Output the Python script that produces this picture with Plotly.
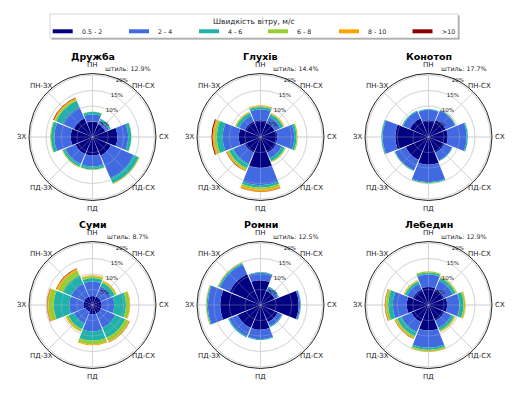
import math
import plotly.graph_objects as go

# ---------------- data ----------------
directions = ['ПН', 'ПН-СХ', 'СХ', 'ПД-СХ', 'ПД', 'ПД-ЗХ', 'ЗХ', 'ПН-ЗХ']
angles = [0, 45, 90, 135, 180, 225, 270, 315]
speed_bins = ['0.5 - 2', '2 - 4', '4 - 6', '6 - 8', '8 - 10', '>10']
stations = ['Дружба', 'Глухів', 'Конотоп', 'Суми', 'Ромни', 'Лебедин']
calm = [12.9, 14.4, 17.7, 8.7, 12.5, 12.9]

# percentage of observations per speed bin (rows) and direction (columns)
druzhba = [
    [5.0, 4.5, 8.0, 6.5, 6.0, 6.0, 7.0, 6.5],
    [2.3, 1.3, 3.5, 8.0, 3.5, 3.5, 5.3, 4.0],
    [0.8, 0.6, 1.0, 1.8, 1.0, 1.0, 1.1, 2.3],
    [0.1, 0.1, 0.1, 0.2, 0.2, 0.2, 0.2, 0.5],
    [0.0, 0.0, 0.0, 0.1, 0.0, 0.1, 0.1, 0.4],
    [0.0, 0.0, 0.0, 0.0, 0.0, 0.0, 0.0, 0.2],
]
glukhiv = [
    [5.4, 5.0, 5.4, 5.5, 10.0, 5.5, 7.0, 5.5],
    [3.5, 2.0, 5.5, 2.0, 5.5, 4.0, 5.2, 2.0],
    [0.8, 1.0, 0.7, 1.0, 0.8, 1.5, 1.9, 1.0],
    [0.3, 0.3, 0.4, 0.4, 0.7, 0.6, 0.8, 0.3],
    [0.2, 0.2, 0.0, 0.0, 0.6, 0.4, 0.6, 0.2],
    [0.0, 0.0, 0.0, 0.0, 0.1, 0.1, 0.3, 0.0],
]
konotop = [
    [5.4, 6.0, 6.2, 5.5, 8.9, 8.0, 10.7, 6.5],
    [3.4, 3.3, 6.1, 2.8, 5.7, 3.7, 4.1, 2.5],
    [0.2, 0.3, 0.4, 0.2, 0.3, 0.3, 0.4, 0.3],
    [0.05, 0.05, 0.05, 0.0, 0.05, 0.05, 0.05, 0.05],
    [0.0, 0.0, 0.0, 0.0, 0.0, 0.0, 0.0, 0.0],
    [0.0, 0.0, 0.0, 0.0, 0.0, 0.0, 0.0, 0.0],
]
sumy = [
    [2.9, 3.0, 3.0, 3.0, 3.0, 2.5, 3.0, 3.0],
    [4.7, 3.5, 4.0, 5.0, 5.5, 4.0, 4.5, 4.5],
    [1.1, 1.3, 3.8, 3.5, 3.0, 2.0, 5.0, 3.0],
    [0.6, 0.5, 1.2, 1.3, 1.2, 0.7, 1.7, 1.7],
    [0.3, 0.3, 0.2, 0.3, 0.3, 0.3, 0.4, 0.6],
    [0.0, 0.0, 0.0, 0.1, 0.0, 0.0, 0.1, 0.1],
]
romny = [
    [8.0, 5.0, 12.3, 6.0, 8.0, 8.0, 13.0, 10.8],
    [2.4, 1.2, 0.5, 1.5, 3.0, 3.0, 4.0, 3.5],
    [0.2, 0.3, 0.2, 0.3, 0.3, 0.4, 0.4, 0.5],
    [0.0, 0.0, 0.0, 0.0, 0.0, 0.0, 0.1, 0.2],
    [0.0, 0.0, 0.0, 0.0, 0.0, 0.0, 0.1, 0.1],
    [0.0, 0.0, 0.0, 0.0, 0.0, 0.0, 0.0, 0.0],
]
lebedyn = [
    [5.8, 5.5, 6.0, 5.5, 8.2, 6.0, 7.0, 5.5],
    [4.0, 3.0, 4.0, 2.5, 5.6, 3.5, 4.5, 2.0],
    [0.7, 1.0, 1.3, 1.0, 0.7, 1.5, 1.5, 0.8],
    [0.3, 0.4, 0.5, 0.4, 0.5, 0.6, 0.7, 0.3],
    [0.1, 0.1, 0.2, 0.2, 0.2, 0.3, 0.3, 0.2],
    [0.0, 0.0, 0.0, 0.0, 0.0, 0.1, 0.1, 0.0],
]
station_data = [druzhba, glukhiv, konotop, sumy, romny, lebedyn]

radial_ticks = [5, 10, 15, 20]
radial_labels = ['5%', '10%', '15%', '20%']

# ---------------- style / layout ----------------
PAGE_MARGIN = 8          # browser default body margin around the plot div
W, H = 520 - PAGE_MARGIN, 395 - PAGE_MARGIN
colors = ['#000080', '#4169E1', '#20B2AA', '#9ACD32', '#FFA500', '#8B0000']
FONT = 'DejaVu Sans'
GRID = '#dcdcdc'
GRID_OVER = 'rgba(200,200,200,0.45)'
centers = [(92.5, 137), (260.5, 137), (428.5, 137),
           (92.5, 305), (260.5, 305), (428.5, 305)]
R = 63.5
LABEL_R = 71.5
RMAX = 20.5


def px(x):
    return (x - PAGE_MARGIN) / W


def py(y):
    return 1 - (y - PAGE_MARGIN) / H


fig = go.Figure()
layout = dict(
    width=W, height=H,
    margin=dict(l=0, r=0, t=0, b=0),
    paper_bgcolor='white',
    plot_bgcolor='white',
    font=dict(family=FONT, size=7, color='#222'),
    showlegend=False,
)
annotations = []
shapes = []


def text(x, y, s, size, xanchor='center', color='#222'):
    annotations.append(dict(
        x=px(x), y=py(y), xref='paper', yref='paper', text=s,
        showarrow=False, xanchor=xanchor, yanchor='middle',
        font=dict(family=FONT, size=size, color=color),
    ))


# grid geometry drawn over the bars (as matplotlib does)
spoke_r, spoke_t = [], []
for a in angles:
    spoke_r += [0, RMAX, None]
    spoke_t += [a, a, None]
ring_r, ring_t = [], []
for t in radial_ticks:
    ring_r += [t] * 73 + [None]
    ring_t += list(range(0, 361, 5)) + [None]

for i, (name, data) in enumerate(zip(stations, station_data)):
    key = 'polar' if i == 0 else f'polar{i + 1}'
    for j, b in enumerate(speed_bins):
        fig.add_trace(go.Barpolar(
            r=data[j], theta=angles, width=43,
            marker=dict(color=colors[j], line=dict(width=0)),
            name=b, subplot=key, showlegend=False,
        ))
    fig.add_trace(go.Scatterpolar(
        r=spoke_r + ring_r, theta=spoke_t + ring_t, mode='lines',
        line=dict(color=GRID_OVER, width=0.7), hoverinfo='skip',
        subplot=key, showlegend=False, connectgaps=False,
    ))
    cx, cy = centers[i]
    layout[key] = dict(
        domain=dict(x=[px(cx - R), px(cx + R)], y=[py(cy + R), py(cy - R)]),
        bgcolor='white',
        barmode='stack',
        angularaxis=dict(
            direction='clockwise', rotation=90, thetaunit='degrees',
            tickmode='array', tickvals=angles, showticklabels=False,
            showline=True, linecolor='#222', linewidth=1,
            showgrid=True, gridcolor=GRID, gridwidth=0.8,
            ticks='',
        ),
        radialaxis=dict(
            range=[0, RMAX], angle=71, tickangle=71,
            tickmode='array', tickvals=radial_ticks, ticktext=radial_labels,
            showline=False, ticks='', showgrid=True,
            gridcolor=GRID, gridwidth=0.8,
            tickfont=dict(family=FONT, size=5.5, color='#222'),
            layer='above traces',
        ),
    )
    # compass labels around the circle
    for a, lab in zip(angles, directions):
        t = math.radians(a)
        text(cx + LABEL_R * math.sin(t), cy - LABEL_R * math.cos(t), lab, 7)
    text(cx, cy - 81, f'<b>{name}</b>', 9.5, color='black')
    text(cx + 35, cy - 69, f'штиль: {calm[i]}%', 6.3)

# ---- manual legend ----
lx0, lx1, ly0, ly1 = 50, 458, 14, 38
shapes.append(dict(type='rect', xref='paper', yref='paper',
                   x0=px(lx0 + 1.5), x1=px(lx1 + 1.5), y0=py(ly1 + 1.5), y1=py(ly0 + 1.5),
                   line=dict(width=0), fillcolor='#9a9a9a', layer='above'))
shapes.append(dict(type='rect', xref='paper', yref='paper',
                   x0=px(lx0), x1=px(lx1), y0=py(ly1), y1=py(ly0),
                   line=dict(width=0.8, color='#cccccc'), fillcolor='white', layer='above'))
text(254, 21.5, 'Швидкість вітру, м/с', 7.5)
legend_x = [52.7, 129, 199, 268, 339, 412.5]
for k, b in enumerate(speed_bins):
    x0 = legend_x[k]
    shapes.append(dict(type='rect', xref='paper', yref='paper',
                       x0=px(x0), x1=px(x0 + 20), y0=py(33.3), y1=py(29.3),
                       line=dict(width=0), fillcolor=colors[k], layer='above'))
    text(x0 + 27, 31.3, b, 6.3, xanchor='left')

layout['annotations'] = annotations
layout['shapes'] = shapes
fig.update_layout(**layout)
fig.write_html('out.html')
